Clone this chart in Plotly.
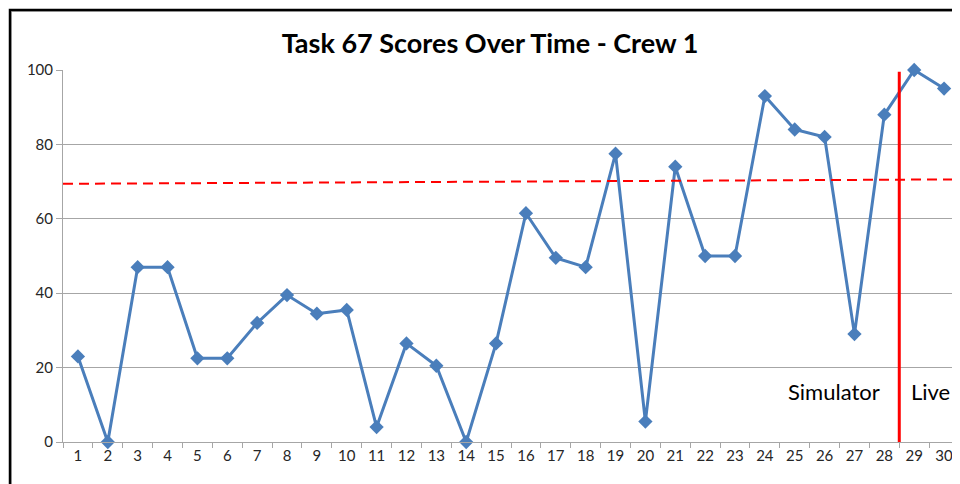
import plotly.graph_objects as go

sessions = [str(i) for i in range(1, 31)]
scores = [23, 0, 47, 47, 22.5, 22.5, 32, 39.5, 34.5, 35.5,
          4, 26.5, 20.5, 0, 26.5, 61.5, 49.5, 47, 77.5, 5.5,
          74, 50, 50, 93, 84, 82, 29, 88, 100, 95]
target_start, target_end = 69.4, 70.6
y_ticks = [0, 20, 40, 60, 80, 100]
title = "Task 67 Scores Over Time - Crew 1"

FONT = "Lato, Carlito, Calibri, sans-serif"
OFF = 8  # page body margin in the browser
W, H = 960 - OFF, 484 - OFF
L, T = 63 - OFF, 70 - OFF
B = H - (442 - OFF)
R = W - (959 - OFF)
pw, ph = W - L - R, H - T - B


def px_x(p):  # screen pixel -> paper x
    return (p - OFF - L) / pw


def px_y(p):  # screen pixel -> paper y
    return (H - B - (p - OFF)) / ph


fig = go.Figure()
fig.add_trace(go.Scatter(
    x=sessions, y=scores, mode="lines+markers",
    line=dict(color="#4A7EBB", width=3),
    marker=dict(symbol="diamond", size=11, color="#4A7EBB"),
    cliponaxis=False, showlegend=False, hoverinfo="x+y"))

n = len(sessions)
# target (dashed) line across the full plot width
fig.add_shape(type="line", xref="x", yref="y", x0=-0.5, x1=n - 0.5,
              y0=target_start, y1=target_end,
              line=dict(color="#FF0000", width=2, dash="10px,6px"))
# simulator / live separator between session 28 and 29
fig.add_shape(type="line", xref="x", yref="y", x0=27.5, x1=27.5,
              y0=0, y1=99.5, line=dict(color="#FF0000", width=3))

# outer chart frame
fig.add_shape(type="rect", xref="paper", yref="paper",
              x0=px_x(11.5), x1=px_x(990), y0=px_y(11.5), y1=px_y(520),
              line=dict(color="#BFBFBF", width=1), layer="below")
fig.add_shape(type="rect", xref="paper", yref="paper",
              x0=px_x(10), x1=px_x(990), y0=px_y(10), y1=px_y(520),
              line=dict(color="#000000", width=2.5), layer="below")

fig.add_annotation(x=px_x(834), y=13.7, xref="paper", yref="y",
                   xanchor="center", yanchor="middle",
                   text="Simulator", showarrow=False,
                   font=dict(family=FONT, size=22, color="#000000"))
fig.add_annotation(x=px_x(930), y=13.5, xref="paper", yref="y",
                   xanchor="center", yanchor="middle",
                   text="Live", showarrow=False,
                   font=dict(family=FONT, size=22, color="#000000"))

fig.update_layout(
    width=W, height=H,
    margin=dict(l=L, r=R, t=T, b=B, autoexpand=False),
    paper_bgcolor="white", plot_bgcolor="white",
    title=dict(text="<b>" + title + "</b>", x=px_x(490) * pw / W + L / W,
               xanchor="center", y=1 - (44 - OFF) / H, yanchor="middle",
               font=dict(family=FONT, size=27, color="#000000")),
    xaxis=dict(type="category", tickson="boundaries", ticks="outside",
               ticklen=5, tickcolor="#A6A6A6", showline=True,
               linecolor="#A6A6A6", linewidth=1, showgrid=False,
               range=[-0.5, n - 0.5],
               tickfont=dict(family=FONT, size=15, color="#262626"),
               fixedrange=True),
    yaxis=dict(range=[0, 100], tickvals=y_ticks, ticks="outside",
               ticklen=6, tickcolor="#A6A6A6", showline=True,
               linecolor="#A6A6A6", linewidth=1, showgrid=True,
               gridcolor="#A6A6A6", gridwidth=1, zeroline=False,
               tickfont=dict(family=FONT, size=15, color="#262626"),
               fixedrange=True),
)

fig.write_html("out.html")
